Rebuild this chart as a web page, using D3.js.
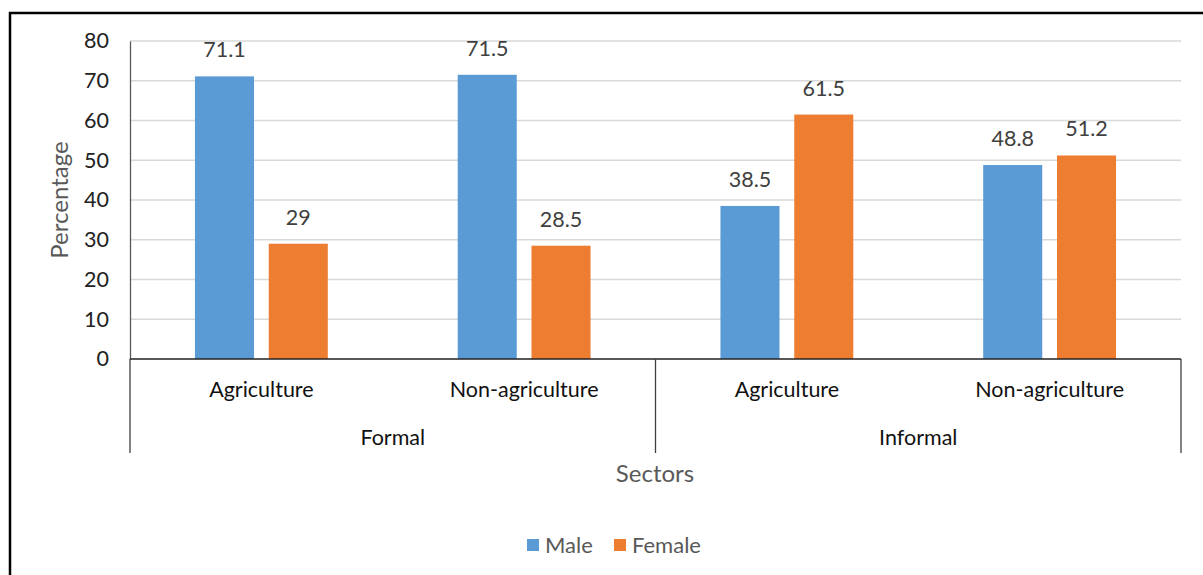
<!DOCTYPE html>
<html>
<head>
<meta charset="utf-8">
<script src="https://cdn.jsdelivr.net/npm/d3@7"></script>
<style>
  html, body { margin: 0; padding: 0; background: #fff; }
  svg { display: block; font-family: Lato, "Open Sans", sans-serif; }
</style>
</head>
<body>
<svg id="chart" width="1203" height="575"></svg>
<script>
// Share of workers by sex in each sector
const groups = ["Formal", "Informal"];
const categories = ["Agriculture", "Non-agriculture"];
const seriesNames = ["Male", "Female"];
const male = [71.1, 71.5, 38.5, 48.8];
const female = [29, 28.5, 61.5, 51.2];
const yTicks = [0, 10, 20, 30, 40, 50, 60, 70, 80];
const colors = ["#5B9BD5", "#ED7D31"];

const svg = d3.select("#chart");
const W = 1203, H = 575;
const plot = { left: 130, right: 1181, top: 41, bottom: 359 };

// outer frame
svg.append("rect")
  .attr("x", 10).attr("y", 13)
  .attr("width", W + 20).attr("height", H + 20)
  .attr("fill", "none").attr("stroke", "#000").attr("stroke-width", 2.5);

// one slot per (group, category) pair
const slots = [];
groups.forEach(g => categories.forEach(c => slots.push(g + "|" + c)));
const values = slots.map((s, i) => ({ slot: s, group: s.split("|")[0], cat: s.split("|")[1], vals: [male[i], female[i]] }));

const x0 = d3.scaleBand().domain(slots).range([plot.left, plot.right]);
const x1 = d3.scaleBand().domain(seriesNames).range([0, x0.bandwidth()]).paddingInner(0.2).paddingOuter(0.88);
const y = d3.scaleLinear().domain([0, 80]).range([plot.bottom, plot.top]);

// gridlines
svg.append("g").selectAll("line").data(yTicks.filter(t => t > 0)).join("line")
  .attr("x1", plot.left).attr("x2", plot.right)
  .attr("y1", d => y(d)).attr("y2", d => y(d))
  .attr("stroke", "#d9d9d9").attr("stroke-width", 1.3);

// y axis
const yAxis = svg.append("g").attr("transform", `translate(${plot.left},0)`)
  .call(d3.axisLeft(y).tickValues(yTicks).tickSize(0).tickPadding(21));
yAxis.select(".domain").attr("stroke", "#595959").attr("stroke-width", 1.3);
yAxis.selectAll("text").attr("font-size", 21.5).attr("fill", "#222").attr("font-family", "Lato, sans-serif");

// bars
const slotG = svg.append("g").selectAll("g").data(values).join("g")
  .attr("transform", d => `translate(${x0(d.slot)},0)`);
slotG.selectAll("rect").data(d => d.vals.map((v, i) => ({ name: seriesNames[i], v, i }))).join("rect")
  .attr("x", d => x1(d.name)).attr("width", x1.bandwidth())
  .attr("y", d => y(d.v)).attr("height", d => y(0) - y(d.v))
  .attr("fill", d => colors[d.i]);
slotG.selectAll("text").data(d => d.vals.map((v, i) => ({ name: seriesNames[i], v, i }))).join("text")
  .attr("x", d => x1(d.name) + x1.bandwidth() / 2)
  .attr("y", d => y(d.v) - 19)
  .attr("text-anchor", "middle").attr("font-size", 21.5).attr("fill", "#404040")
  .text(d => d.v);

// category axis baseline
svg.append("line").attr("x1", plot.left).attr("x2", plot.right)
  .attr("y1", plot.bottom).attr("y2", plot.bottom)
  .attr("stroke", "#222").attr("stroke-width", 1.5);

// group dividers
const gWidth = (plot.right - plot.left) / groups.length;
const dividers = d3.range(groups.length + 1).map(i => plot.left + i * gWidth);
svg.append("g").selectAll("line").data(dividers).join("line")
  .attr("x1", d => d).attr("x2", d => d)
  .attr("y1", plot.bottom).attr("y2", 453)
  .attr("stroke", "#404040").attr("stroke-width", 1.3);

// category labels
svg.append("g").selectAll("text").data(values).join("text")
  .attr("x", d => x0(d.slot) + x0.bandwidth() / 2)
  .attr("y", 397)
  .attr("text-anchor", "middle").attr("font-size", 21.5).attr("fill", "#111")
  .text(d => d.cat);

// group labels
svg.append("g").selectAll("text").data(groups).join("text")
  .attr("x", (d, i) => plot.left + (i + 0.5) * gWidth)
  .attr("y", 445)
  .attr("text-anchor", "middle").attr("font-size", 21.5).attr("fill", "#111")
  .text(d => d);

// axis titles
svg.append("text")
  .attr("transform", `translate(68,${(plot.top + plot.bottom) / 2}) rotate(-90)`)
  .attr("text-anchor", "middle").attr("font-size", 24).attr("fill", "#595959")
  .text("Percentage");
svg.append("text")
  .attr("x", 655).attr("y", 482)
  .attr("text-anchor", "middle").attr("font-size", 24).attr("fill", "#595959")
  .text("Sectors");

// legend
const legend = svg.append("g").attr("transform", "translate(527,545)");
const items = legend.selectAll("g").data(seriesNames).join("g")
  .attr("transform", (d, i) => `translate(${i * 87},0)`);
items.append("rect").attr("x", 0).attr("y", -6).attr("width", 12).attr("height", 12)
  .attr("fill", (d, i) => colors[i]);
items.append("text").attr("x", 18).attr("y", 8)
  .attr("font-size", 22).attr("fill", "#595959").text(d => d);
</script>
</body>
</html>
